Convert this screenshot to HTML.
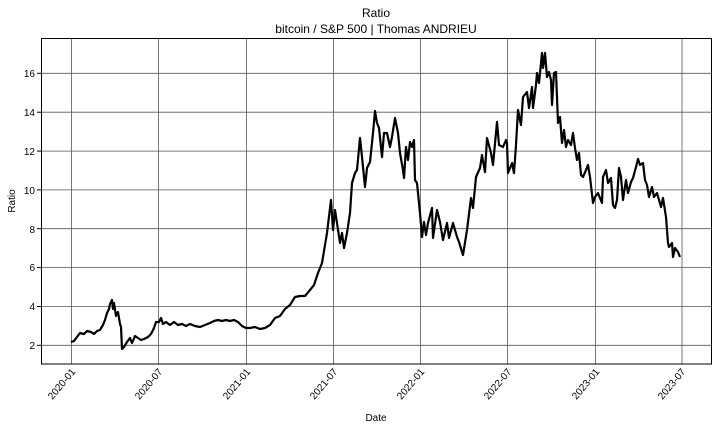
<!DOCTYPE html>
<html><head><meta charset="utf-8"><style>body{margin:0;background:#fff}svg{display:block}text{font-family:"Liberation Sans","DejaVu Sans",sans-serif;fill:#000}</style></head><body>
<svg width="717" height="431" viewBox="0 0 717 431">
<rect width="717" height="431" fill="#fff"/>
<text x="376" y="17" font-size="12" text-anchor="middle">Ratio</text>
<text x="376" y="33" font-size="12" text-anchor="middle">bitcoin / S&amp;P 500 | Thomas ANDRIEU</text>
<g stroke="#555" stroke-width="0.8">
<line x1="41.5" x2="711.5" y1="73.3" y2="73.3"/><line x1="41.5" x2="711.5" y1="112.2" y2="112.2"/><line x1="41.5" x2="711.5" y1="151.1" y2="151.1"/><line x1="41.5" x2="711.5" y1="189.9" y2="189.9"/><line x1="41.5" x2="711.5" y1="228.7" y2="228.7"/><line x1="41.5" x2="711.5" y1="267.6" y2="267.6"/><line x1="41.5" x2="711.5" y1="306.5" y2="306.5"/><line x1="41.5" x2="711.5" y1="345.3" y2="345.3"/>
<line y1="38" y2="364" x1="71.5" x2="71.5"/><line y1="38" y2="364" x1="158.5" x2="158.5"/><line y1="38" y2="364" x1="246.5" x2="246.5"/><line y1="38" y2="364" x1="333.5" x2="333.5"/><line y1="38" y2="364" x1="420.5" x2="420.5"/><line y1="38" y2="364" x1="507.5" x2="507.5"/><line y1="38" y2="364" x1="595.5" x2="595.5"/><line y1="38" y2="364" x1="682" x2="682"/>
</g>
<g stroke="#000" stroke-width="1"><line x1="37" x2="41.5" y1="73.3" y2="73.3"/><line x1="37" x2="41.5" y1="112.2" y2="112.2"/><line x1="37" x2="41.5" y1="151.1" y2="151.1"/><line x1="37" x2="41.5" y1="189.9" y2="189.9"/><line x1="37" x2="41.5" y1="228.7" y2="228.7"/><line x1="37" x2="41.5" y1="267.6" y2="267.6"/><line x1="37" x2="41.5" y1="306.5" y2="306.5"/><line x1="37" x2="41.5" y1="345.3" y2="345.3"/></g>
<g font-size="10" text-anchor="end"><text x="35" y="77">16</text><text x="35" y="116">14</text><text x="35" y="155">12</text><text x="35" y="194">10</text><text x="35" y="233">8</text><text x="35" y="271">6</text><text x="35" y="310">4</text><text x="35" y="349">2</text></g>
<text transform="translate(15,201) rotate(-90)" font-size="10" text-anchor="middle">Ratio</text>
<g font-size="10" text-anchor="end">
<text transform="translate(76,372) rotate(-50)">2020-01</text><text transform="translate(163,372) rotate(-50)">2020-07</text><text transform="translate(251,372) rotate(-50)">2021-01</text><text transform="translate(338,372) rotate(-50)">2021-07</text><text transform="translate(425,372) rotate(-50)">2022-01</text><text transform="translate(512,372) rotate(-50)">2022-07</text><text transform="translate(600,372) rotate(-50)">2023-01</text><text transform="translate(686,372) rotate(-50)">2023-07</text>
</g>
<text x="376" y="421" font-size="10" text-anchor="middle">Date</text>
<polyline fill="none" stroke="#000" stroke-width="2.2" stroke-linejoin="round" points="71,342 74,341 77,337 80,333 84,334 87,331 91,332 94,334 97,331 100,330 103,325 105,320 107,313 109,309 110,304 112,300 113,309 114,303 116,316 118,312 120,324 121,327 122,349 124,347 127,342 130,338 132,343 135,336 138,338 141,340 144,339 148,337 151,334 154,328 156,322 159,322 161,318 163,324 166,322 170,325 174,322 178,325 182,324 186,326 190,324 195,326 200,327 205,325 210,323 214,321 218,320 222,321 226,320 230,321 234,320 238,322 242,326 246,328 250,328 255,327 260,329 265,328 270,325 275,318 280,316 285,309 290,305 295,297 300,296 305,296 310,290 314,285 318,273 322,263 327,233 331,200 333,230 335,210 337,223 340,243 342,233 344,248 347,233 350,213 352,183 355,173 357,170 360,138 362,157 365,187 367,168 370,162 373,133 375,111 377,123 379,128 382,157 384,133 387,133 390,147 392,137 395,118 398,133 400,153 403,170 404,178 406,147 408,160 410,142 412,147 414,140 415,180 417,183 420,213 422,237 424,222 426,235 428,223 432,208 433,238 437,210 440,222 443,240 447,223 449,238 453,223 457,237 459,242 463,255 467,230 471,198 473,208 476,177 480,168 482,155 485,172 487,138 491,153 493,165 497,122 499,145 503,147 506,140 507,143 508,173 512,163 514,173 516,145 518,110 521,125 523,97 527,92 529,108 532,87 533,108 536,85 537,73 539,83 542,53 543,68 545,53 547,77 549,72 551,80 552,105 554,73 556,72 558,123 560,117 562,143 564,130 566,147 568,140 571,145 573,133 575,148 577,160 579,153 581,175 583,177 586,170 588,165 590,177 593,203 595,197 598,193 602,203 603,177 606,170 608,183 611,178 613,205 615,208 617,200 619,168 621,177 623,200 626,180 628,193 631,182 633,178 636,167 638,159 640,165 643,163 645,180 647,185 649,197 652,187 654,197 657,193 659,200 661,207 663,198 666,217 668,243 669,247 672,243 673,257 675,248 678,252 680,257"/>
<rect x="41.5" y="38.5" width="670" height="325.5" fill="none" stroke="#000" stroke-width="1"/>
</svg>
</body></html>
